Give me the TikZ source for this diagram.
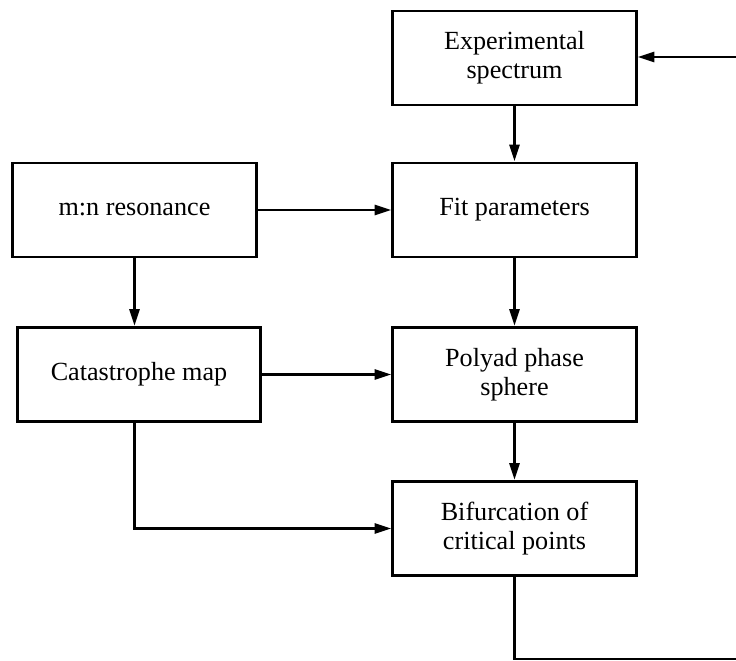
\documentclass[tikz,border=0pt]{standalone}
\usepackage{fontspec}
\setmainfont{Liberation Serif}
\usetikzlibrary{arrows.meta}

\begin{document}
\begin{tikzpicture}[x=0.025cm, y=-0.025cm,
	stagebox/.style={draw, line width=2.1pt, minimum width=6.075cm, minimum height=2.35cm,
		align=center, inner sep=0pt, font=\fontsize{18.6}{20.6}\selectfont},
	flow/.style={line width=2.1pt, -{Triangle[length=12pt, width=7pt]}}]
			%%%%% START %%%%%
			
			\clip (0, 0) rectangle (736, 660);
			
			\node[stagebox] (exp) at (514.5, 58) {Experimental\\spectrum};
			\node[stagebox] (fit) at (514.5, 210) {Fit parameters};
			\node[stagebox] (poly) at (514.5, 374.5) {Polyad phase\\sphere};
			\node[stagebox] (bif) at (514.5, 528.5) {Bifurcation of\\critical points};
			
			\node[stagebox] (mn) at (134.5, 210) {m:n resonance};
			\node[stagebox] (cat) at (139, 374.5) {Catastrophe map};
			
			\coordinate (loopbot) at (740, 659);
			\coordinate (looptop) at (740, 57);
			
			\draw[flow] (exp) -- (fit);
			\draw[flow] (fit) -- (poly);
			\draw[flow] (poly) -- (bif);
			\draw[flow] (mn) -- (fit);
			\draw[flow] (cat) -- (poly);
			\draw[flow] (mn.south) -- (mn.south |- cat.north);
			\draw[flow] (cat.south -| mn.south) |- (bif.west);
			
			\draw[line width=2.1pt] (bif.south) |- (loopbot);
			\draw[flow] (looptop) -- (looptop -| exp.east);
			
			%%%%% END %%%%%
\end{tikzpicture}
\end{document}
